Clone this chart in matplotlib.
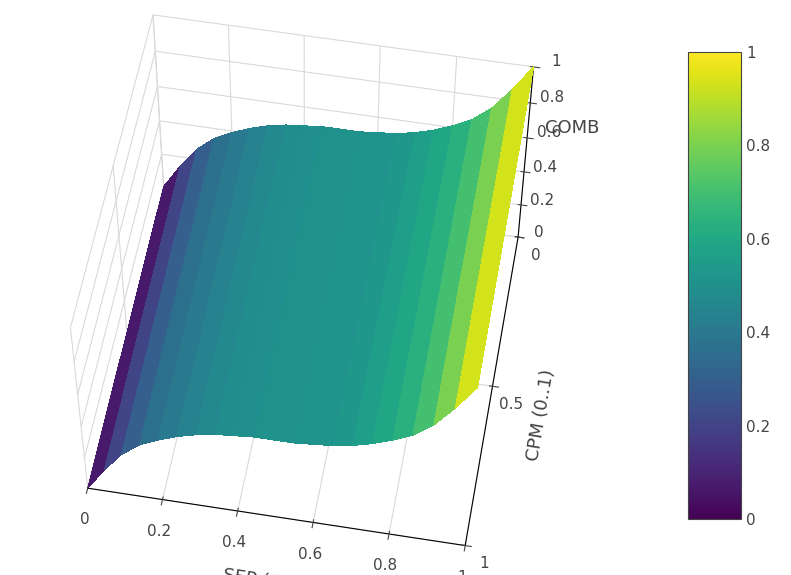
import numpy as np
import matplotlib
matplotlib.use("Agg")
import matplotlib.pyplot as plt
from matplotlib import cm, colors

sep = [0.0, 0.05, 0.1, 0.15, 0.2, 0.25, 0.3, 0.35, 0.4, 0.45, 0.5,
       0.55, 0.6, 0.65, 0.7, 0.75, 0.8, 0.85, 0.9, 0.95, 1.0]
cpm = [0.0, 0.25, 0.5, 0.75, 1.0]
comb_profile = [0.0, 0.14, 0.26, 0.34, 0.39, 0.43, 0.46, 0.48, 0.49, 0.5, 0.5,
                0.5, 0.51, 0.52, 0.54, 0.57, 0.61, 0.66, 0.74, 0.86, 1.0]

S, C = np.meshgrid(sep, cpm)
Z = np.tile(comb_profile, (len(cpm), 1))

fig = plt.figure(figsize=(7.91, 5.75), dpi=100)
ax = fig.add_axes([-0.02, -0.02, 0.8, 1.04], projection="3d")
norm = colors.Normalize(0, 1)
ax.plot_surface(S, C, Z, cmap="viridis", norm=norm, rstride=1, cstride=1,
                linewidth=0, antialiased=False, shade=False)
ax.view_init(elev=55, azim=-80)
ax.set_xlim(0, 1); ax.set_ylim(1, 0); ax.set_zlim(0, 1)
ax.set_xlabel("SEP (0..1)", fontsize=13, color="#444", labelpad=10)
ax.set_ylabel("CPM (0..1)", fontsize=13, color="#444", labelpad=10)
ax.set_zlabel("COMB", fontsize=13, color="#444")
ax.set_xticks([0, 0.2, 0.4, 0.6, 0.8, 1]); ax.set_xticklabels(["0", "0.2", "0.4", "0.6", "0.8", "1"])
ax.set_yticks([0, 0.5, 1]); ax.set_yticklabels(["0", "0.5", "1"])
ax.set_zticks([0, 0.2, 0.4, 0.6, 0.8, 1]); ax.set_zticklabels(["0", "0.2", "0.4", "0.6", "0.8", "1"])
for a in (ax.xaxis, ax.yaxis, ax.zaxis):
    a.set_pane_color((1, 1, 1, 0))
    a._axinfo["grid"]["color"] = (0.85, 0.85, 0.85, 1)
    a.set_tick_params(labelsize=11, colors="#444")

cax = fig.add_axes([0.87, 0.097, 0.067, 0.813])
cb = fig.colorbar(cm.ScalarMappable(norm=norm, cmap="viridis"), cax=cax)
cb.set_ticks([0, 0.2, 0.4, 0.6, 0.8, 1]); cb.set_ticklabels(["0", "0.2", "0.4", "0.6", "0.8", "1"])
cb.ax.tick_params(labelsize=11, colors="#444", length=0)
cb.outline.set_edgecolor("#444")
fig.savefig("out.png", dpi=100)
